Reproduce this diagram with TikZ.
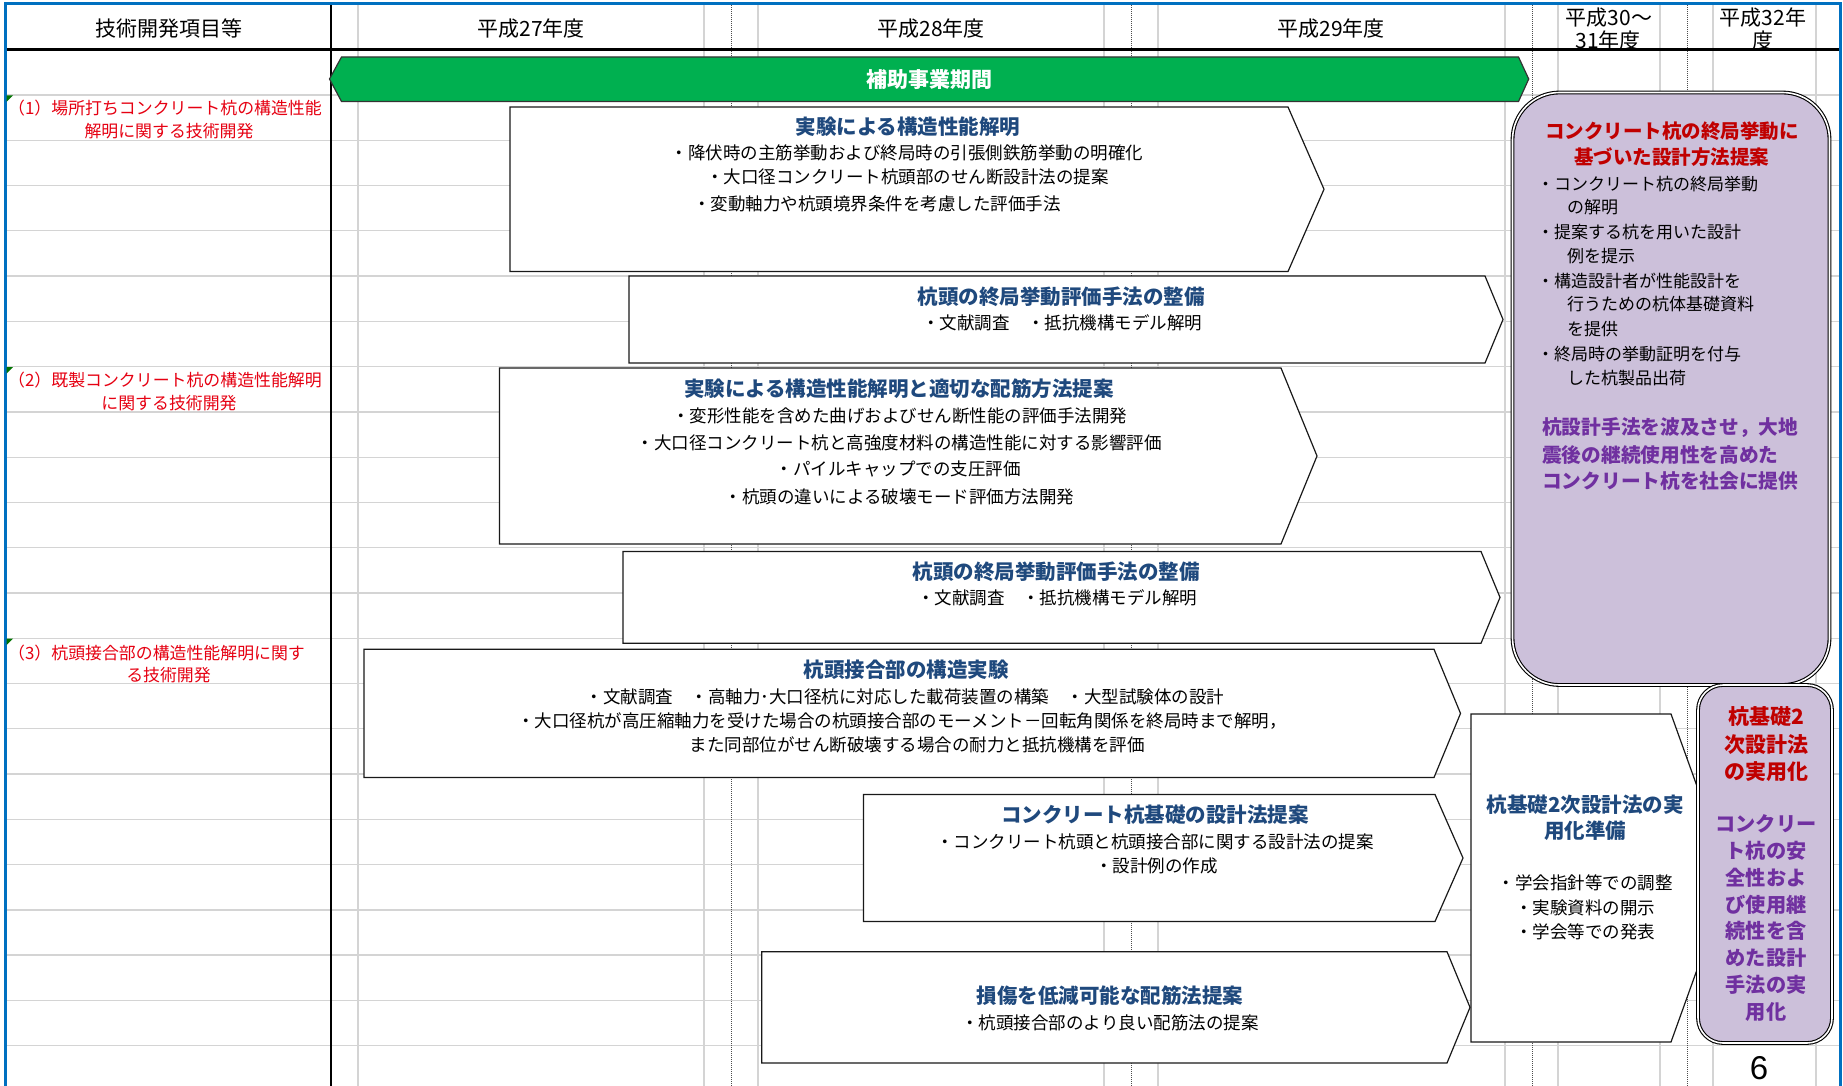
\documentclass[tikz,border=0pt]{standalone}
\usepackage{fontspec}
\newfontfamily\jp{Noto Sans CJK JP}
\newfontfamily\lsans{Liberation Sans}
\definecolor{gridgray}{RGB}{212,212,212}
\definecolor{frameblue}{RGB}{0,112,192}
\definecolor{barGreen}{RGB}{0,176,80}
\definecolor{ttlblue}{RGB}{31,73,125}
\definecolor{lftred}{RGB}{230,0,18}
\definecolor{dkred}{RGB}{192,0,0}
\definecolor{purp}{RGB}{112,48,160}
\definecolor{lav}{RGB}{204,192,218}
\newcommand\fsz[1]{\fontsize{#1}{#1}\selectfont}
\newcommand\chevbox[5]{\draw[shp] (#1,#2) -- (#4,#2) -- (#5,{(#2+#3)/2}) -- (#4,#3) -- (#1,#3) -- cycle;}
\tikzset{
  gline/.style={draw=gridgray,line width=1.3pt},
  dline/.style={draw=black!70,line width=0.9pt,dash pattern=on 1pt off 1pt},
  shp/.style={draw=black!90,line width=1.2pt,fill=white,line join=miter},
  hdr/.style={font=\jp\fsz{21},inner sep=0},
  lred/.style={font=\jp\fsz{16.9},text=lftred,inner sep=0},
  ttl/.style={font=\jp\bfseries\fsz{20.5},text=ttlblue,inner sep=0},
  bdy/.style={font=\jp\fsz{17.5},inner sep=0},
  pbdy/.style={font=\jp\fsz{17},inner sep=0,anchor=west},
  pred/.style={font=\jp\bfseries\fsz{19.5},text=dkred,inner sep=0},
  ppur/.style={font=\jp\bfseries\fsz{19.7},text=purp,inner sep=0,anchor=west},
  sred/.style={font=\jp\bfseries\fsz{21},text=dkred,inner sep=0},
  spur/.style={font=\jp\bfseries\fsz{20.2},text=purp,inner sep=0},
  purpbox/.style={draw=black,line width=1.1pt,double=white,double distance=1.6pt,fill=lav},
  marker/.style={fill=green!45!black}
}
\begin{document}
\begin{tikzpicture}[x=1pt,y=-1pt]
\useasboundingbox (0,0) rectangle (1843,1086);
\clip (0,0) rectangle (1843,1086);
\fill[white] (0,0) rectangle (1843,1086);
% grid
\foreach \k in {0,...,21} { \draw[gline] (6,{95+45.27*\k}) -- (1840,{95+45.27*\k}); }
\foreach \x in {358,704,758,1104,1158,1505,1558,1660,1713,1816} { \draw[gline] (\x,5) -- (\x,1086); }
\foreach \x in {731,1131,1532,1687} { \draw[dline] (\x,5) -- (\x,1086); }
% header texts
\node[hdr] (h0) at (168.5,29) {技術開発項目等};
\node[hdr] (h1) at (531,29) {平成27年度};
\node[hdr] (h2) at (931,29) {平成28年度};
\node[hdr] (h3) at (1331,29) {平成29年度};
\node[hdr] (h4a) at (1609,18) {平成30～};
\node[hdr] (h4b) at (1608,41) {31年度};
\node[hdr] (h5a) at (1763,18) {平成32年};
\node[hdr] (h5b) at (1763,41) {度};
% frame lines
\draw[line width=2.4pt] (331,4) -- (331,1086);
\draw[line width=2.4pt] (6,49.5) -- (1840,49.5);
\draw[frameblue,line width=3pt] (5.5,1090) -- (5.5,4) -- (1840.5,4) -- (1840.5,1090);
% markers
\fill[marker] (6.5,95.5) -- (13,95.5) -- (6.5,102) -- cycle;
\fill[marker] (6.5,367) -- (13,367) -- (6.5,373.5) -- cycle;
\fill[marker] (6.5,638.5) -- (13,638.5) -- (6.5,645) -- cycle;
% left column texts
\node[lred,anchor=west] (l1a) at (8,108) {（1）場所打ちコンクリート杭の構造性能};
\node[lred] (l1b) at (169,131) {解明に関する技術開発};
\node[lred,anchor=west] (l2a) at (8,380) {（2）既製コンクリート杭の構造性能解明};
\node[lred] (l2b) at (169,403) {に関する技術開発};
\node[lred,anchor=west] (l3a) at (8,653) {（3）杭頭接合部の構造性能解明に関す};
\node[lred] (l3b) at (168.5,675) {る技術開発};
% green bar
\draw[draw=black!80,line width=1.2pt,fill=barGreen] (329.5,79) -- (341.5,57) -- (1518.5,57) -- (1528.7,79) -- (1518.5,101.5) -- (341.5,101.5) -- cycle;
\node[font=\jp\bfseries\fsz{21},text=white,inner sep=0] (bar) at (929,80) {補助事業期間};
% chevron boxes
\chevbox{510}{107}{271.5}{1288}{1324}
\chevbox{629}{276}{363}{1485}{1503}
\chevbox{499.5}{368}{544}{1281}{1317}
\chevbox{623}{551.5}{643.3}{1481}{1500}
\chevbox{364}{649.3}{777.5}{1434}{1460.5}
\chevbox{863.5}{794.5}{921.5}{1435}{1463}
\chevbox{761.7}{951.7}{1063}{1447}{1470}
\chevbox{1471}{714}{1042}{1671}{1730}
% purple boxes
\draw[purpbox,rounded corners=47pt] (1512.5,92.5) rectangle (1829.5,685);
\draw[purpbox,rounded corners=25pt] (1698,685) rectangle (1832,1043);
% box A
\node[ttl] (a0) at (908,127) {実験による構造性能解明};
\node[bdy] (a1) at (907,153) {・降伏時の主筋挙動および終局時の引張側鉄筋挙動の明確化};
\node[bdy] (a2) at (907.5,177) {・大口径コンクリート杭頭部のせん断設計法の提案};
\node[bdy] (a3) at (877,204) {・変動軸力や杭頭境界条件を考慮した評価手法};
% box B
\node[ttl] (b0) at (1061,297) {杭頭の終局挙動評価手法の整備};
\node[bdy] (b1) at (1062,323) {・文献調査　・抵抗機構モデル解明};
% box C
\node[ttl] (c0) at (899,388.5) {実験による構造性能解明と適切な配筋方法提案};
\node[bdy] (c1) at (899.5,415.7) {・変形性能を含めた曲げおよびせん断性能の評価手法開発};
\node[bdy] (c2) at (899,442.7) {・大口径コンクリート杭と高強度材料の構造性能に対する影響評価};
\node[bdy] (c3) at (898,469.3) {・パイルキャップでの支圧評価};
\node[bdy] (c4) at (899.7,496.7) {・杭頭の違いによる破壊モード評価方法開発};
% box D
\node[ttl] (d0) at (1056,572) {杭頭の終局挙動評価手法の整備};
\node[bdy] (d1) at (1057,598) {・文献調査　・抵抗機構モデル解明};
% box E
\node[ttl] (e0) at (906,670) {杭頭接合部の構造実験};
\node[bdy] (e1) at (905,696.5) {・文献調査　・高軸力･大口径杭に対応した載荷装置の構築　・大型試験体の設計};
\node[bdy] (e2) at (902,721) {・大口径杭が高圧縮軸力を受けた場合の杭頭接合部のモーメント－回転角関係を終局時まで解明，};
\node[bdy] (e3) at (917,745) {また同部位がせん断破壊する場合の耐力と抵抗機構を評価};
% box F
\node[ttl] (f0) at (1155,815) {コンクリート杭基礎の設計法提案};
\node[bdy] (f1) at (1155,841.7) {・コンクリート杭頭と杭頭接合部に関する設計法の提案};
\node[bdy] (f2) at (1156.5,865.5) {・設計例の作成};
% box G
\node[ttl] (g0) at (1110,996) {損傷を低減可能な配筋法提案};
\node[bdy] (g1) at (1110,1022.7) {・杭頭接合部のより良い配筋法の提案};
% box H
\node[ttl] (k0) at (1585,805) {杭基礎2次設計法の実};
\node[ttl] (k1) at (1585,831) {用化準備};
\node[bdy] (k2) at (1585,883) {・学会指針等での調整};
\node[bdy] (k3) at (1585,908) {・実験資料の開示};
\node[bdy] (k4) at (1585,932) {・学会等での発表};
% big purple box
\node[pred] (p0) at (1672,131) {コンクリート杭の終局挙動に};
\node[pred] (p1) at (1671.5,157) {基づいた設計方法提案};
\node[pbdy] (q1) at (1537,184) {・コンクリート杭の終局挙動};
\node[pbdy] (q2) at (1567,207.5) {の解明};
\node[pbdy] (q3) at (1537,232) {・提案する杭を用いた設計};
\node[pbdy] (q4) at (1567,256) {例を提示};
\node[pbdy] (q5) at (1537,280.5) {・構造設計者が性能設計を};
\node[pbdy] (q6) at (1567,304.5) {行うための杭体基礎資料};
\node[pbdy] (q7) at (1567,329.5) {を提供};
\node[pbdy] (q8) at (1537,354) {・終局時の挙動証明を付与};
\node[pbdy] (q9) at (1567,378) {した杭製品出荷};
\node[ppur] (r1) at (1542,428) {杭設計手法を波及させ，大地};
\node[ppur] (r2) at (1542,455) {震後の継続使用性を高めた};
\node[ppur] (r3) at (1542,481) {コンクリート杭を社会に提供};
% small purple box
\node[sred] (s1) at (1766,717) {杭基礎2};
\node[sred] (s2) at (1766,744.5) {次設計法};
\node[sred] (s3) at (1766,771.5) {の実用化};
\node[spur] (t1) at (1766,824) {コンクリー};
\node[spur] (t2) at (1766,851) {ト杭の安};
\node[spur] (t3) at (1766,877.5) {全性およ};
\node[spur] (t4) at (1766,904.5) {び使用継};
\node[spur] (t5) at (1766,931) {続性を含};
\node[spur] (t6) at (1766,957.5) {めた設計};
\node[spur] (t7) at (1766,985) {手法の実};
\node[spur] (t8) at (1766,1012) {用化};
% page number
\node[font=\lsans\fsz{33},anchor=base,inner sep=0] (pg) at (1759,1079) {6};
\end{tikzpicture}
\end{document}
